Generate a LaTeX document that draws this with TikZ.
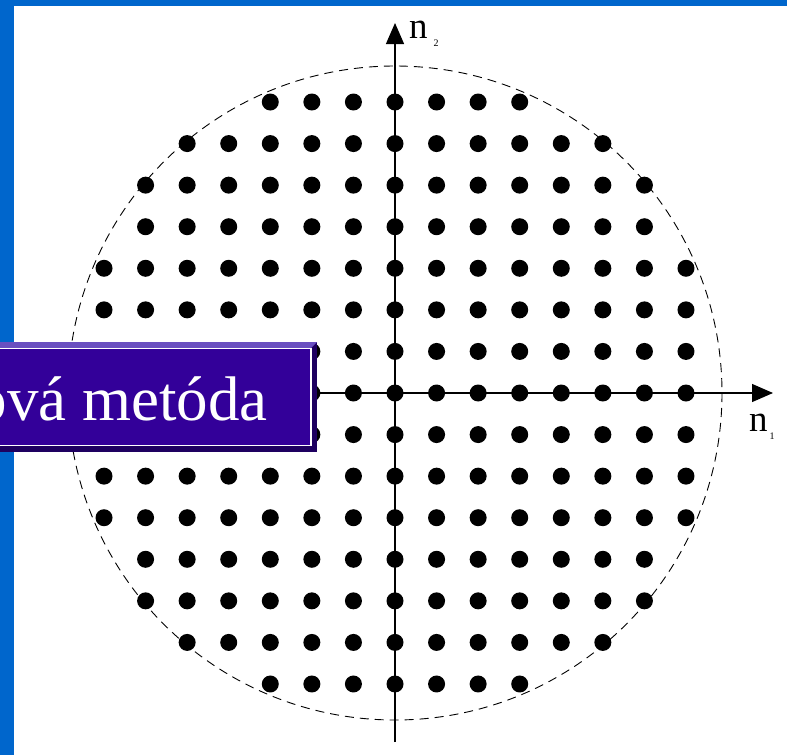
\documentclass[tikz,border=0pt]{standalone}
\usepackage{fontspec}
\setmainfont{Liberation Serif}
\usetikzlibrary{arrows.meta}
\definecolor{framblue}{HTML}{0066CC}
\definecolor{boxface}{HTML}{330099}
\definecolor{boxlight}{HTML}{6A4FC0}
\definecolor{boxdark}{HTML}{1E0060}
\tikzset{
  dotmark/.style={fill=black},
  axisline/.style={line width=1.2pt,-{Triangle[length=21pt,width=18pt]}},
  dashcircle/.style={line width=0.9pt,dash pattern=on 9pt off 6pt},
  axislabel/.style={font=\fontsize{37}{37}\selectfont,inner sep=0pt,anchor=base west},
  sublabel/.style={font=\fontsize{10}{10}\selectfont,inner sep=0pt},
  boxtext/.style={font=\fontsize{63}{63}\selectfont,text=white,inner sep=0pt,anchor=base east}
}
\begin{document}
\begin{tikzpicture}[x=1pt,y=-1pt]
\useasboundingbox (0,0) rectangle (787,755);
\fill[white] (0,0) rectangle (787,755);
% frame
\fill[framblue] (0,0) rectangle (787,6);
\fill[framblue] (0,0) rectangle (14,755);
% circle
\coordinate (O) at (395,393);
\draw[dashcircle] (O) circle[radius=327];
% dots
\foreach \i in {-7,...,7}{
  \foreach \j in {-7,...,7}{
    \pgfmathtruncatemacro\rr{\i*\i+\j*\j}
    \ifnum\rr<64
      \fill[dotmark] ({395+41.57*\i},{393+41.57*\j}) circle[radius=8.5];
    \fi
  }
}
% axes
\coordinate (xs) at (20,393);
\coordinate (xe) at (773,393);
\coordinate (ys) at (395,742);
\coordinate (ye) at (395,23);
\draw[axisline] (xs) -- (xe);
\draw[axisline] (ys) -- (ye);
\node[axislabel] (n2) at (409,38) {n};
\node[sublabel] (n2s) at (436,43) {2};
\node[axislabel] (n1) at (749,431) {n};
\node[sublabel] (n1s) at (772,436) {1};
% title box
\fill[boxdark] (0,342) rectangle (317,452);
\fill[boxlight] (0,342) -- (317,342) -- (311,348) -- (0,348) -- cycle;
\fill[boxface,draw=white,line width=1.5pt] (-2,348.5) rectangle (311,445.5);
\node[boxtext] (title) at (268,420) {ová metóda};
\end{tikzpicture}
\end{document}
